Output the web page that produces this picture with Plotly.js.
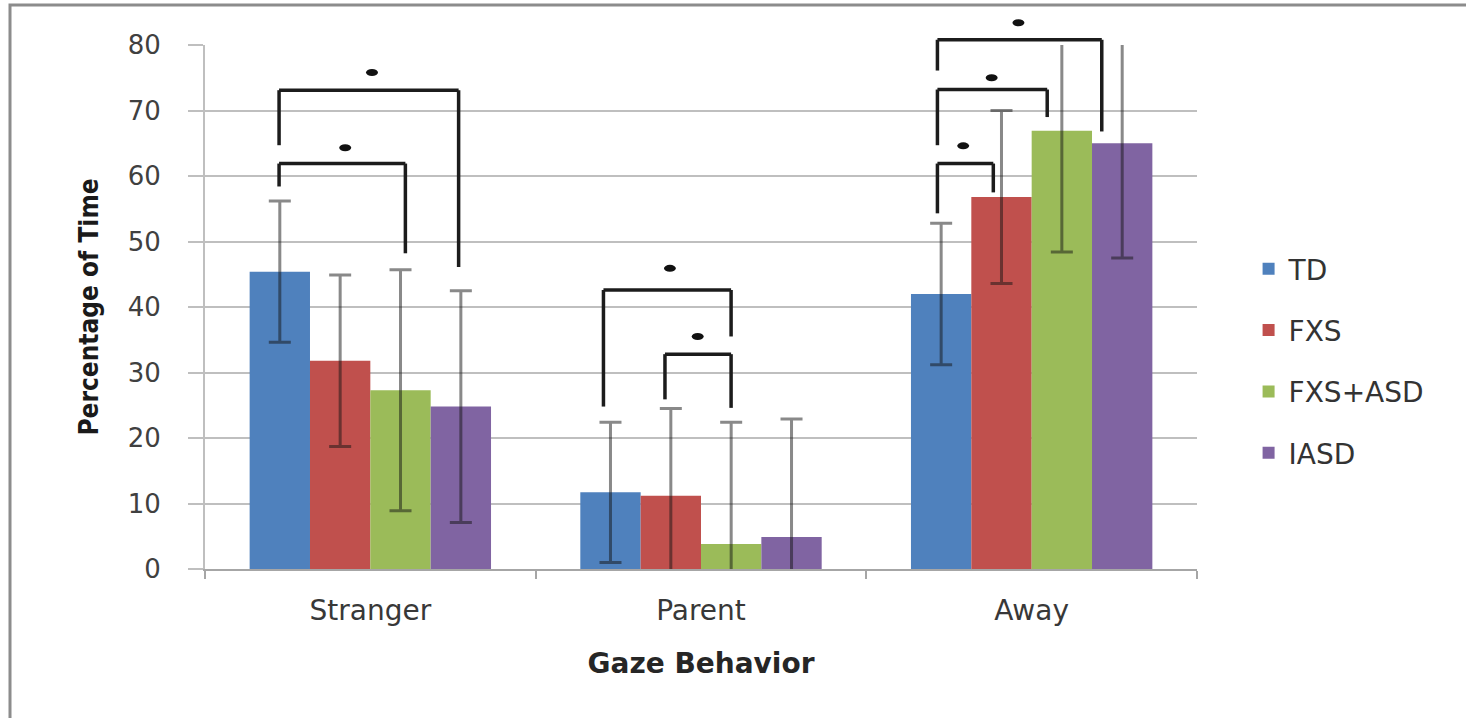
<!DOCTYPE html>
<html>
<head>
<meta charset="utf-8">
<script src="https://cdn.plot.ly/plotly-3.0.1.min.js"></script>
<style>
  html, body { margin: 0; padding: 0; background: #ffffff; }
  #chart { width: 1466px; height: 718px; }
</style>
</head>
<body>
<div id="chart"></div>
<script>
// ---- Data ----
const categories = ['Stranger', 'Parent', 'Away'];
const groupNames = ['TD', 'FXS', 'FXS+ASD', 'IASD'];
const tdValues      = [45.4, 11.7, 42.0];
const tdErrors      = [10.8, 10.7, 10.8];
const fxsValues     = [31.8, 11.2, 56.8];
const fxsErrors     = [13.1, 13.3, 13.2];
const fxsAsdValues  = [27.3, 3.8, 66.9];
const fxsAsdErrors  = [18.4, 18.6, 18.5];
const iasdValues    = [24.8, 4.9, 65.0];
const iasdErrors    = [17.7, 18.0, 17.5];
const yTicks = [0, 10, 20, 30, 40, 50, 60, 70, 80];

// significance brackets: left x, right x (category units), top level, left leg bottom, right leg bottom
const bracketLeft   = [-0.276, -0.276, 0.705, 0.891, 1.715, 1.715, 1.715];
const bracketRight  = [0.106, 0.267, 1.091, 1.091, 1.884, 2.047, 2.212];
const bracketTop    = [61.9, 73.1, 42.6, 32.8, 61.9, 73.2, 80.8];
const bracketLeftB  = [58.4, 64.7, 24.8, 25.9, 54.3, 64.7, 76.1];
const bracketRightB = [48.2, 46.1, 35.5, 24.6, 57.5, 69.0, 66.8];
const markerX       = [-0.076, 0.005, 0.906, 0.990, 1.793, 1.879, 1.960];
const markerY       = [64.3, 75.8, 45.9, 35.5, 64.6, 75.0, 83.4];

const yMax = 80;
const colors = ['#4F81BD', '#C0504D', '#9BBB59', '#8064A2'];
const values = [tdValues, fxsValues, fxsAsdValues, iasdValues];
const errors = [tdErrors, fxsErrors, fxsAsdErrors, iasdErrors];

const traces = groupNames.map((name, i) => ({
  type: 'bar',
  name: name,
  x: categories,
  y: values[i],
  legendgroup: 'g' + i,
  marker: { color: colors[i], line: { width: 0 } },
  error_y: {
    type: 'data',
    array: errors[i],
    visible: true,
    color: 'rgba(20,20,20,0.5)',
    thickness: 3,
    width: 11
  }
}));

const toPaper = v => v / yMax;
const shapes = [];
const lineStyle = { color: '#1c1c1c', width: 3.5 };
for (let k = 0; k < bracketLeft.length; k++) {
  shapes.push({ type: 'line', xref: 'x', yref: 'paper',
    x0: bracketLeft[k], x1: bracketRight[k], y0: toPaper(bracketTop[k]), y1: toPaper(bracketTop[k]), line: lineStyle });
  shapes.push({ type: 'line', xref: 'x', yref: 'paper',
    x0: bracketLeft[k], x1: bracketLeft[k], y0: toPaper(bracketTop[k]), y1: toPaper(bracketLeftB[k]), line: lineStyle });
  shapes.push({ type: 'line', xref: 'x', yref: 'paper',
    x0: bracketRight[k], x1: bracketRight[k], y0: toPaper(bracketTop[k]), y1: toPaper(bracketRightB[k]), line: lineStyle });
  shapes.push({ type: 'circle', xref: 'x', yref: 'paper',
    xsizemode: 'pixel', ysizemode: 'pixel',
    xanchor: markerX[k], yanchor: toPaper(markerY[k]),
    x0: -6, x1: 6, y0: -3.5, y1: 3.5,
    fillcolor: '#111111', line: { width: 0 } });
}
// outer frame of the figure
shapes.push({ type: 'rect', xref: 'paper', yref: 'paper',
  x0: (10 - 205) / 992, x1: 1.3, y0: -0.3, y1: (569 - 5) / 524,
  line: { color: '#8c8c8c', width: 3 }, fillcolor: 'rgba(0,0,0,0)' });

const tickFont = { family: 'DejaVu Sans, sans-serif', size: 26, color: '#404040' };

const layout = {
  width: 1466,
  height: 718,
  margin: { l: 205, r: 269, t: 45, b: 149 },
  paper_bgcolor: '#ffffff',
  plot_bgcolor: '#ffffff',
  barmode: 'group',
  bargap: 0.27,
  bargroupgap: 0,
  showlegend: true,
  legend: {
    x: 1.052, xanchor: 'left',
    y: 0.397, yanchor: 'middle',
    font: { family: 'DejaVu Sans, sans-serif', size: 28, color: '#333333' },
    tracegroupgap: 22,
    bgcolor: 'rgba(0,0,0,0)'
  },
  xaxis: {
    type: 'category',
    showgrid: false,
    showline: true,
    linecolor: '#a6a6a6',
    linewidth: 2,
    ticks: 'outside',
    tickson: 'boundaries',
    ticklen: 8,
    tickwidth: 2,
    tickcolor: '#a6a6a6',
    tickfont: { family: 'DejaVu Sans, sans-serif', size: 28, color: '#383838' },
    ticklabelstandoff: 15,
    title: { text: 'Gaze Behavior', standoff: 28,
      font: { family: 'DejaVu Sans, sans-serif', size: 28, color: '#262626', weight: 'bold' } }
  },
  yaxis: {
    range: [0, yMax],
    tickvals: yTicks,
    ticktext: yTicks.map(String),
    showgrid: true,
    gridcolor: '#bfbfbf',
    gridwidth: 2,
    zeroline: false,
    showline: true,
    linecolor: '#bfbfbf',
    linewidth: 2,
    ticks: 'outside',
    ticklen: 15,
    tickwidth: 2,
    tickcolor: '#bfbfbf',
    tickfont: tickFont,
    ticklabelstandoff: 22,
    title: { text: 'Percentage of Time', standoff: 22,
      font: { family: 'DejaVu Sans Condensed, DejaVu Sans, sans-serif', size: 26, color: '#1a1a1a', weight: 'bold' } }
  },
  shapes: shapes
};

Plotly.newPlot('chart', traces, layout, { displayModeBar: false, staticPlot: true });
</script>
</body>
</html>
